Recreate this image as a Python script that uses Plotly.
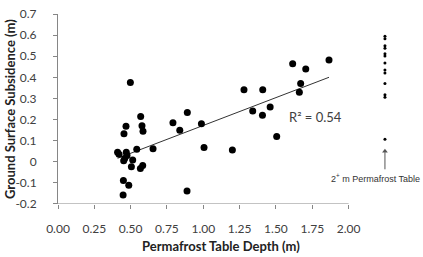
import numpy as np
import plotly.graph_objects as go

# Measured sites (permafrost table depth, m ; subsidence, m)
depth = [0.498, 0.569, 0.468, 0.578, 0.454, 0.585, 0.41, 0.42, 0.47, 0.475,
         0.542, 0.654, 0.452, 0.459, 0.514, 0.505, 0.567, 0.583, 0.45, 0.487,
         0.448, 0.888, 1.005, 1.28, 1.409, 0.89, 0.791, 0.838, 0.987, 1.34,
         1.407, 1.46, 1.2, 1.615, 1.865, 1.705, 1.67, 1.661, 1.505]
subsidence = [0.376, 0.214, 0.168, 0.171, 0.133, 0.145, 0.045, 0.035, 0.045, 0.03,
              0.059, 0.062, 0.005, 0.015, 0.008, -0.024, -0.032, -0.018, -0.089, -0.112,
              -0.158, -0.139, 0.067, 0.341, 0.341, 0.233, 0.185, 0.149, 0.18, 0.24,
              0.22, 0.26, 0.055, 0.464, 0.482, 0.44, 0.371, 0.329, 0.12]

# Sites with permafrost table deeper than 2 m
deep_x = 2.25
deep_subsidence = [0.595, 0.583, 0.55, 0.538, 0.512, 0.501, 0.468, 0.435,
                   0.421, 0.371, 0.317, 0.306, 0.106]

x_ticks = [0.0, 0.25, 0.5, 0.75, 1.0, 1.25, 1.5, 1.75, 2.0]
x_tick_text = ["0.00", "0.25", "0.50", "0.75", "1.00", "1.25", "1.50", "1.75", "2.00"]
y_ticks = [-0.2, -0.1, 0, 0.1, 0.2, 0.3, 0.4, 0.5, 0.6, 0.7]
y_tick_text = ["-0.2", "-0.1", "0", "0.1", "0.2", "0.3", "0.4", "0.5", "0.6", "0.7"]
r2_label = "R² = 0.54"

slope, intercept = np.polyfit(depth, subsidence, 1)
tx = np.array([min(depth), max(depth)])
ty = slope * tx + intercept

W, H = 423, 257
ML, MR, MT, MB = 58, 9, 6, 53
pw = W - ML - MR
ph = H - MT - MB

fig = go.Figure()
fig.add_trace(go.Scatter(x=tx, y=ty, mode="lines",
                         line=dict(color="#333333", width=1), hoverinfo="skip"))
fig.add_trace(go.Scatter(x=depth, y=subsidence, mode="markers",
                         marker=dict(color="black", size=7)))
fig.add_trace(go.Scatter(x=[deep_x] * len(deep_subsidence), y=deep_subsidence,
                         mode="markers", marker=dict(color="black", size=3)))

axis_font = dict(family="Lato", size=12, color="#404040")
fig.update_layout(
    width=W, height=H,
    margin=dict(l=ML, r=MR, t=MT, b=MB),
    plot_bgcolor="white", paper_bgcolor="white",
    showlegend=False,
    xaxis=dict(range=[0, 2.45], tickvals=x_ticks, ticktext=x_tick_text,
               showgrid=False, zeroline=False, showline=False,
               ticks="outside", ticklen=4, tickcolor="#868686",
               tickfont=axis_font, ticklabelstandoff=10,
               ticklabeloverflow="allow"),
    yaxis=dict(range=[-0.2005, 0.7005], tickvals=y_ticks, ticktext=y_tick_text,
               showgrid=False, zeroline=False, showline=True,
               linecolor="#868686", linewidth=1,
               ticks="outside", ticklen=4, tickcolor="#868686",
               tickfont=axis_font, ticklabelstandoff=14,
               ticklabeloverflow="allow"),
)

fig.add_shape(type="line", xref="x", yref="y", x0=0, x1=2.0, y0=-0.2005, y1=-0.2005,
              line=dict(color="#868686", width=1))

fig.add_annotation(x=1.773, y=0.21, xref="x", yref="y", text=r2_label,
                   showarrow=False, font=dict(family="Lato", size=13, color="#404040"))

# arrow pointing at the >2 m sites
fig.add_shape(type="line", xref="x", yref="y", x0=deep_x, x1=deep_x, y0=-0.036, y1=0.045,
              line=dict(color="#555555", width=1))
fig.add_trace(go.Scatter(x=[deep_x], y=[0.05], mode="markers", hoverinfo="skip",
                         marker=dict(symbol="triangle-up", size=5, color="#555555")))
fig.add_annotation(x=2.187, y=-0.076, xref="x", yref="y",
                   text="2<sup>+</sup> m Permafrost Table", showarrow=False,
                   font=dict(family="Liberation Sans", size=9, color="#333333"))

fig.add_annotation(xref="paper", yref="paper", x=(221 - ML) / pw, y=(H - MB - 248) / ph,
                   xanchor="center", yanchor="middle",
                   text="<b>Permafrost Table Depth (m)</b>",
                   showarrow=False, font=dict(family="Lato", size=13, color="#222222"))
fig.add_annotation(xref="paper", yref="paper", x=(10 - ML) / pw, y=(H - MB - 105) / ph,
                   xanchor="center", yanchor="middle",
                   text="<b>Ground Surface Subsidence (m)</b>",
                   showarrow=False, textangle=-90,
                   font=dict(family="Lato", size=13, color="#222222"))

fig.write_html("out.html", config={"displayModeBar": False},
               post_script="document.body.style.margin='0px';")
